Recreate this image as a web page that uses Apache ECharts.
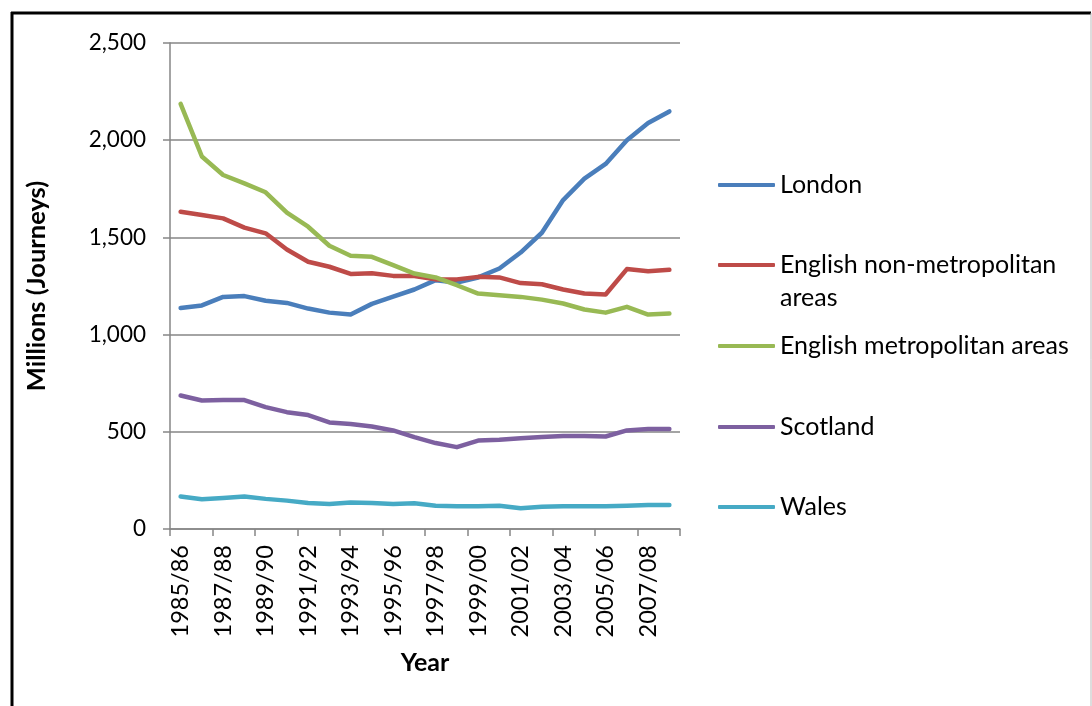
<!DOCTYPE html>
<html>
<head>
<meta charset="utf-8">
<script src="https://cdn.jsdelivr.net/npm/echarts@6/dist/echarts.min.js"></script>
<style>
html,body{margin:0;padding:0;background:#fff;}
#chart{width:1092px;height:706px;}
</style>
</head>
<body>
<div id="chart"></div>
<script>
const categories = ['1985/86','1986/87','1987/88','1988/89','1989/90','1990/91','1991/92','1992/93','1993/94','1994/95','1995/96','1996/97','1997/98','1998/99','1999/00','2000/01','2001/02','2002/03','2003/04','2004/05','2005/06','2006/07','2007/08','2008/09'];
const london   = [1137,1150,1194,1198,1174,1163,1134,1113,1103,1158,1195,1232,1280,1268,1294,1340,1422,1524,1692,1802,1878,2000,2088,2148];
const englishNonMet = [1632,1615,1598,1550,1521,1438,1375,1349,1312,1316,1302,1301,1284,1284,1297,1294,1265,1259,1232,1211,1206,1337,1326,1333];
const englishMet = [2187,1916,1821,1778,1732,1627,1555,1457,1406,1400,1357,1314,1294,1254,1211,1203,1194,1180,1160,1129,1113,1143,1103,1108];
const scotland = [687,661,663,663,627,601,586,548,540,527,507,473,442,421,455,459,467,473,478,479,476,507,515,514];
const wales    = [167,153,160,167,155,146,134,129,136,134,129,132,120,117,117,120,107,115,117,117,117,120,124,124];
const yTicks = [0, 500, 1000, 1500, 2000, 2500];

const names = ['London','English non-metropolitan areas','English metropolitan areas','Scotland','Wales'];
const values = [london, englishNonMet, englishMet, scotland, wales];
const colors = ['#4A7EBB','#BE4B48','#98B954','#7D60A0','#46AAC5'];
const legendY = [185, 265, 346, 427, 507];

const FONT = 'Lato';
const chart = echarts.init(document.getElementById('chart'));

const legends = names.map((n, i) => {
  const twoLine = (i === 1);
  return {
    data: [n],
    left: 718,
    top: twoLine ? legendY[i] - 49.5 : legendY[i] - 16.5,
    orient: 'vertical',
    icon: 'roundRect',
    itemWidth: 57,
    itemHeight: 4,
    itemGap: 0,
    padding: 0,
    selectedMode: false,
    formatter: twoLine ? ' \nEnglish non-metropolitan\nareas' : '{name}',
    textStyle: { fontFamily: FONT, fontSize: 25, color: '#000', lineHeight: 33 }
  };
});

const option = {
  animation: false,
  backgroundColor: '#fff',
  color: colors,
  grid: { left: 170, right: 412, top: 43, bottom: 177, containLabel: false },
  legend: legends,
  xAxis: {
    type: 'category',
    data: categories,
    boundaryGap: true,
    name: 'Year',
    nameLocation: 'middle',
    nameGap: 121,
    nameTextStyle: { fontFamily: FONT, fontSize: 25, fontWeight: 'bold', color: '#000', verticalAlign: 'top' },
    axisLine: { lineStyle: { color: '#868686', width: 1.5 } },
    axisTick: { show: true, interval: 1, length: 7, lineStyle: { color: '#868686', width: 1.5 } },
    axisLabel: { interval: 1, rotate: 90, margin: 16, fontFamily: FONT, fontSize: 23.5, color: '#000' },
    splitLine: { show: false }
  },
  yAxis: {
    type: 'value',
    min: yTicks[0],
    max: yTicks[yTicks.length - 1],
    interval: 500,
    name: 'Millions (Journeys)',
    nameLocation: 'middle',
    nameGap: 120,
    nameTextStyle: { fontFamily: FONT, fontSize: 25.5, fontWeight: 'bold', color: '#000' },
    axisLine: { show: true, lineStyle: { color: '#868686', width: 1.5 } },
    axisTick: { show: true, length: 7, lineStyle: { color: '#868686', width: 1.5 } },
    axisLabel: {
      margin: 24, fontFamily: FONT, fontSize: 22.5, color: '#000',
      formatter: v => v.toLocaleString('en-US')
    },
    splitLine: { show: true, lineStyle: { color: '#868686', width: 1.5 } }
  },
  series: names.map((n, i) => ({
    name: n,
    type: 'line',
    data: values[i],
    symbol: 'none',
    smooth: false,
    lineStyle: { width: 4.5, color: colors[i], cap: 'round', join: 'round' },
    itemStyle: { color: colors[i] }
  })),
  graphic: [
    { type: 'line', shape: { x1: 12, y1: 12, x2: 12, y2: 706 }, style: { stroke: '#000', lineWidth: 3 } },
    { type: 'line', shape: { x1: 11, y1: 13, x2: 1091, y2: 13 }, style: { stroke: '#000', lineWidth: 3 } },
    { type: 'line', shape: { x1: 1091, y1: 13, x2: 1091, y2: 706 }, style: { stroke: '#bbb', lineWidth: 1 } }
  ]
};
chart.setOption(option);
</script>
</body>
</html>
